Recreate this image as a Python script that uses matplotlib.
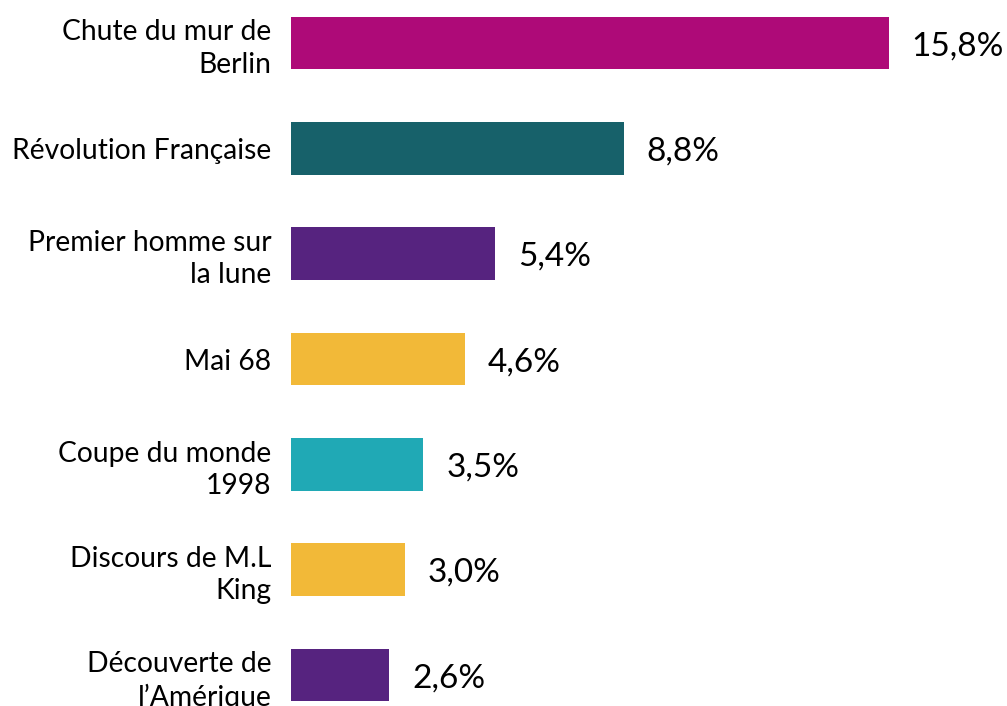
import matplotlib
matplotlib.use("Agg")
import matplotlib.pyplot as plt
import numpy as np

categories = [
    "Chute du mur de\nBerlin",
    "Révolution Française",
    "Premier homme sur\nla lune",
    "Mai 68",
    "Coupe du monde\n1998",
    "Discours de M.L\nKing",
    "Découverte de\nl\u2019Amérique",
]
values = [15.8, 8.8, 5.4, 4.6, 3.5, 3.0, 2.6]
value_labels = ["15,8%", "8,8%", "5,4%", "4,6%", "3,5%", "3,0%", "2,6%"]
colors = ["#AE0A78", "#17616A", "#56237F", "#F2B938", "#20A9B5", "#F2B938", "#56237F"]

plt.rcParams['font.family'] = ['Lato', 'DejaVu Sans']

fig = plt.figure(figsize=(10.07, 7.06), dpi=100)
ax = fig.add_axes([291 / 1007, 0, 716 / 1007, 1])

y = np.arange(len(categories))
ax.barh(y, values, height=0.5, color=colors)

ax.set_xlim(0, 716 / 37.85)
ax.set_ylim(6.294, -0.408)

for yi, v, lab in zip(y, values, value_labels):
    ax.text(v + 0.6, yi + 0.03, lab, va="center", ha="left", fontsize=24, color="black")

ax.set_yticks(y)
ax.set_yticklabels(categories, fontsize=20.3, linespacing=1.3, ha="right")
ax.tick_params(axis="y", length=0, pad=14)
ax.set_xticks([])
for s in ax.spines.values():
    s.set_visible(False)

fig.savefig("out.png", dpi=100)
